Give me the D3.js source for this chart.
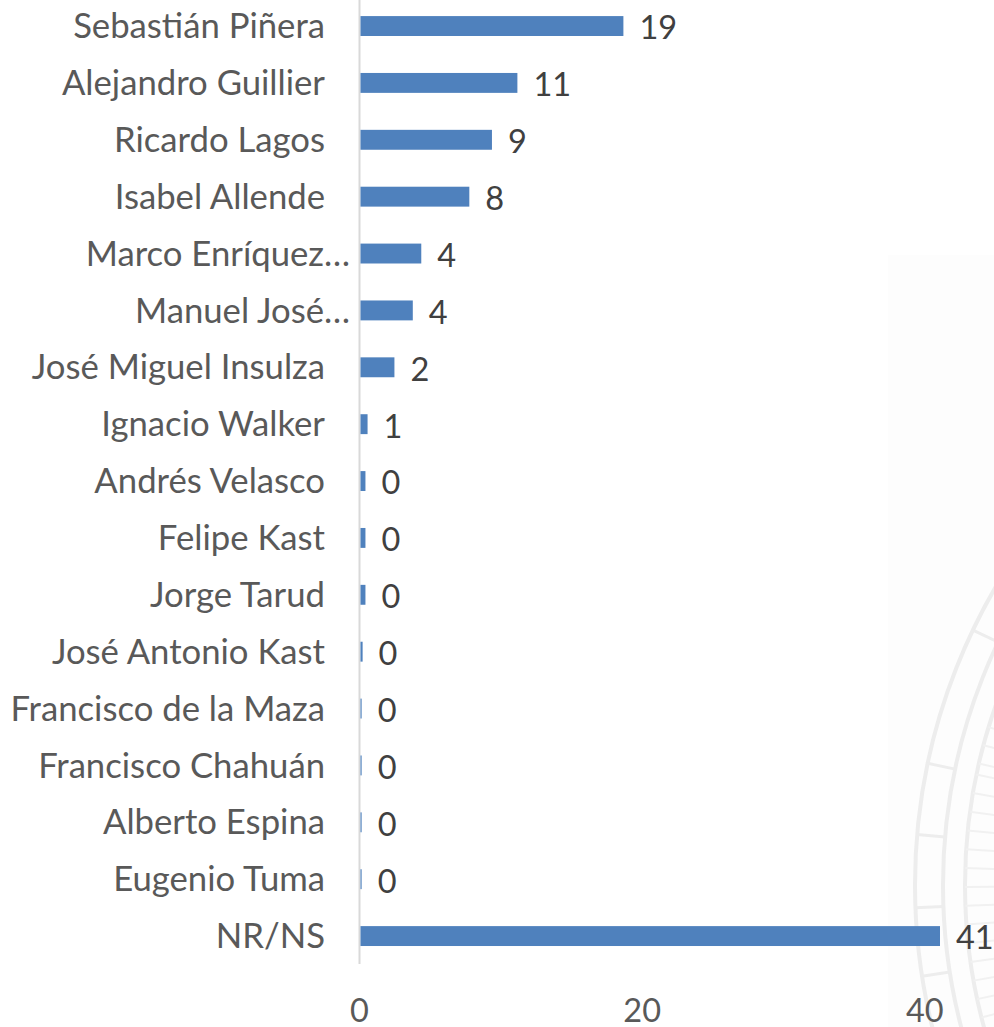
<!DOCTYPE html>
<html><head><meta charset="utf-8">
<script src="https://cdn.jsdelivr.net/npm/d3@7"></script>
<style>html,body{margin:0;padding:0;background:#fff}svg{display:block}text{font-family:Lato,"Open Sans",sans-serif}</style>
</head><body><svg id="c" width="994" height="1027"></svg>
<script>
const categories=["Sebastián Piñera","Alejandro Guillier","Ricardo Lagos","Isabel Allende","Marco Enríquez…","Manuel José…","José Miguel Insulza","Ignacio Walker","Andrés Velasco","Felipe Kast","Jorge Tarud","José Antonio Kast","Francisco de la Maza","Francisco Chahuán","Alberto Espina","Eugenio Tuma","NR/NS"];
const values=[18.6,11.1,9.3,7.7,4.3,3.7,2.4,0.5,0.35,0.35,0.35,0.15,0.08,0.08,0.08,0.08,41];
const truncated=["Marco Enríquez…","Manuel José…"];
const xTicks=[0,20,40];
const wmOuterTicksDeg=[154.4,168.1,175.1,182.2,188.9,196];
const wmInnerTicksDeg=[159,161,163,165,167,168.2,170.2,172.2,174.2,176.2,178.2,180.2,182.2,184.2,186.2,188.2,190.2,192.2,194.2,196.2];
const svg=d3.select("#c");
const x=d3.scaleLinear().domain([0,41]).range([360.5,940]);
const y=d3.scaleBand().domain(categories).range([-2.4,964.5]).paddingInner(0.65).paddingOuter(0.325);

// faint watermark panel
const wm=svg.append("g");
wm.append("rect").attr("x",888).attr("y",255).attr("width",106).attr("height",772).attr("fill","#fdfdfd");
const c=[1505,885];
const rad=d=>d*Math.PI/180;
const wc=wm.append("g").attr("transform",`translate(${c})`).attr("fill","none").attr("stroke","#ededed");
[[590,4],[562,4],[540,4]].forEach(([r,w])=>wc.append("circle").attr("r",r).attr("stroke-width",w));
wc.selectAll("line.o").data(wmOuterTicksDeg).join("line").attr("stroke-width",3)
  .attr("x1",d=>590*Math.cos(rad(d))).attr("y1",d=>-590*Math.sin(rad(d)))
  .attr("x2",d=>562*Math.cos(rad(d))).attr("y2",d=>-562*Math.sin(rad(d)));
wc.selectAll("line.i").data(wmInnerTicksDeg).join("line").attr("stroke-width",2).attr("stroke","#f1f1f1")
  .attr("x1",d=>540*Math.cos(rad(d))).attr("y1",d=>-540*Math.sin(rad(d)))
  .attr("x2",d=>510*Math.cos(rad(d))).attr("y2",d=>-510*Math.sin(rad(d)));

// axis line
svg.append("line").attr("x1",359.5).attr("x2",359.5).attr("y1",0).attr("y2",964).attr("stroke","#d9d9d9").attr("stroke-width",2);

// bars
svg.selectAll("rect.bar").data(categories).join("rect").attr("class","bar")
  .attr("x",x(0)).attr("y",d=>y(d)).attr("height",y.bandwidth())
  .attr("width",(d,i)=>x(values[i])-x(0)).attr("fill","#4f81bd");

// category labels
svg.selectAll("text.cat").data(categories).join("text").attr("class","cat")
  .attr("x",d=>truncated.includes(d)?350:325).attr("y",d=>y(d)+y.bandwidth()/2)
  .attr("dy","0.35em").attr("text-anchor","end").attr("font-size",34.7).attr("fill","#595959").text(d=>d);

// value labels
svg.selectAll("text.val").data(categories).join("text").attr("class","val")
  .attr("x",(d,i)=>x(values[i])+16).attr("y",d=>y(d)+y.bandwidth()/2+2)
  .attr("dy","0.35em").attr("font-size",32.5).attr("fill","#404040")
  .text((d,i)=>Math.round(values[i]));

// x tick labels
svg.selectAll("text.tick").data(xTicks).join("text").attr("class","tick")
  .attr("x",d=>x(d)-1).attr("y",1011).attr("dy","0.35em").attr("text-anchor","middle")
  .attr("font-size",32.5).attr("fill","#595959").text(d=>d);
</script></body></html>
